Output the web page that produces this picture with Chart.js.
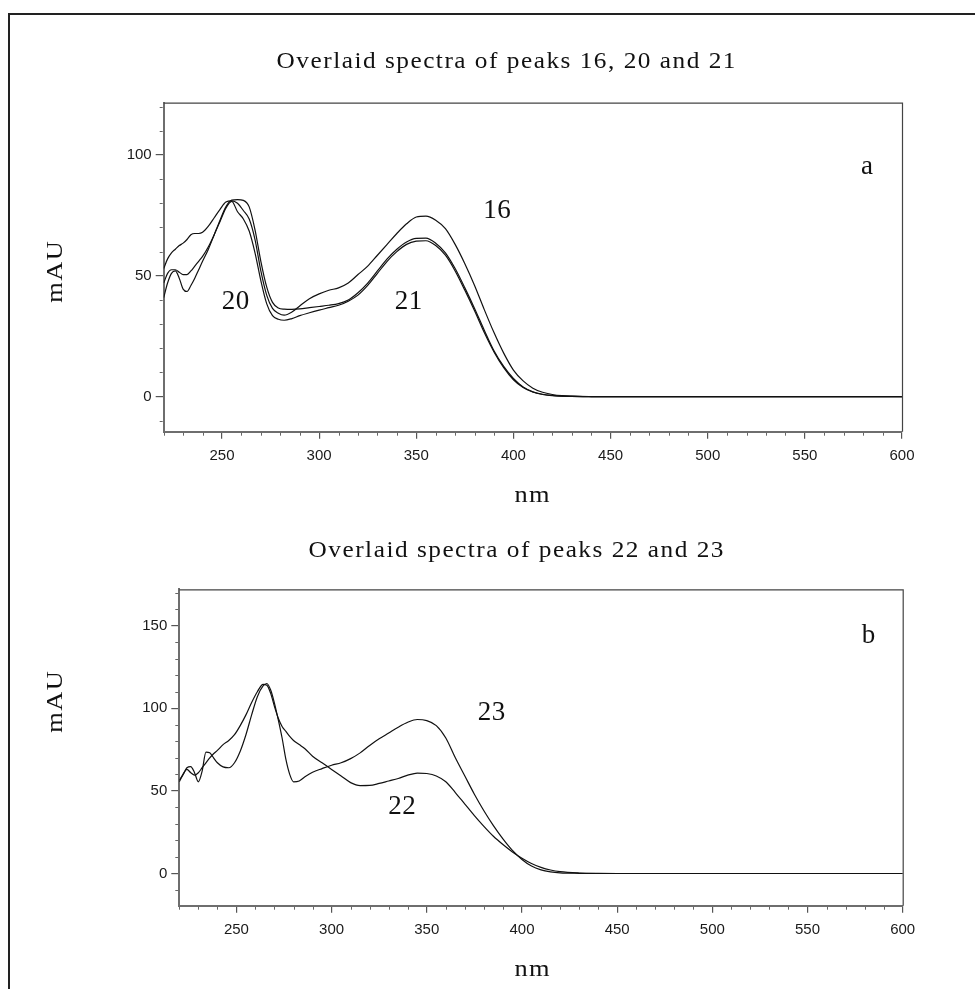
<!DOCTYPE html>
<html>
<head>
<meta charset="utf-8">
<title>Overlaid spectra</title>
<script src="https://cdn.jsdelivr.net/npm/chart.js@4.4.0/dist/chart.umd.min.js"></script>
<style>
    html, body { margin: 0; padding: 0; background: #fff; overflow: hidden; }
    #frame { position: absolute; left: 8px; top: 13px; width: 1000px; height: 1000px; border: 2px solid #222; }
    canvas { position: absolute; left: 0; }
    #chartTop { top: 0; }
    #chartBottom { top: 520px; }
</style>
</head>
<body>
<div id="frame"></div>
<canvas id="chartTop" width="975" height="520"></canvas>
<canvas id="chartBottom" width="975" height="469"></canvas>
<script>
// ---- data ----
const nmTop = [220, 222, 224, 226, 228, 230, 232, 234, 236, 238, 240,
    243, 246, 249, 252, 255, 258, 261, 264, 267, 270, 273, 276, 279, 282,
    286, 290, 295, 300, 305, 310, 315, 320, 325, 330, 335, 340, 345, 350,
    355, 360, 365, 370, 375, 380, 385, 390, 395, 400, 405, 410, 415, 420,
    425, 430, 440, 450, 500, 550, 600];

const peak16 = [53, 57, 59.5, 61, 62.5, 63.5, 65, 67, 67.5, 67.5, 68,
    70.5, 74, 77.5, 80.5, 81, 80, 77, 73.5, 65, 52, 42, 36.5, 34.5, 33.7,
    35, 37.5, 40.5, 42.5, 44, 45, 47, 50.5, 54, 58.5, 63, 67.5, 71.5, 74.3,
    74.7, 73, 69.5, 63, 55, 46, 36, 26.5, 18, 11, 6.5, 3.5, 1.8, 0.9,
    0.4, 0.2, 0.05, 0, 0, 0, 0];

const peak20 = [41, 47, 51, 52, 49, 44.5, 43.5, 46, 49, 52.5, 56,
    61, 67, 73, 78.5, 81.3, 81.5, 81.2, 78.5, 69, 56, 45.4, 39, 36.7, 36.2,
    36.1, 36.3, 36.8, 37.3, 37.8, 38.5, 40, 43, 47, 52, 57, 61, 64, 65.5,
    65.6, 63.5, 59.5, 53, 45, 36.5, 27.5, 19, 12.5, 7.5, 4, 2, 1, 0.5,
    0.2, 0.1, 0, 0, 0, 0, 0];

const peak21 = [47, 51, 52.5, 52.5, 51.5, 50.5, 50.5, 52, 54, 56, 58,
    62, 67, 72.5, 78, 80.8, 76.5, 73.5, 68.5, 59.5, 48, 38.5, 33.5, 32, 31.6,
    32.3, 33.5, 34.7, 35.8, 36.8, 37.8, 39.5, 42, 46, 51, 56, 60, 63, 64.3,
    64.5, 62.5, 58.5, 52, 44, 35.5, 26.5, 18.5, 12, 7, 3.8, 1.9, 0.9, 0.4,
    0.2, 0.1, 0, 0, 0, 0, 0];

const nmBottom = [220, 222, 224, 226, 228, 230, 232, 234, 236, 238, 240,
    243, 246, 249, 252, 255, 258, 261, 264, 266, 268, 270, 272, 274, 276,
    278, 280, 283, 286, 290, 295, 300, 305, 310, 315, 320, 325, 330, 335,
    340, 345, 350, 355, 360, 365, 370, 375, 380, 385, 390, 395, 400, 405,
    410, 415, 420, 430, 440, 450, 500, 550, 600];

const peak22 = [55.5, 60, 63, 61, 59.5, 61, 64, 67, 70, 72.5, 74.5,
    78, 80.5, 84, 89.5, 96, 103.5, 110, 114.5, 114, 109, 101, 94, 89, 86,
    83, 80.5, 78, 75.5, 71, 67, 63, 59, 55, 53.2, 53.3, 54.5, 56, 57.5,
    59.5, 60.8, 60.5, 59, 55.5, 49, 42, 35, 28.5, 22.5, 17.5, 13, 9.2, 6,
    3.7, 2.1, 1.1, 0.3, 0.05, 0, 0, 0, 0];

const peak23 = [56.5, 60, 64, 64.7, 61, 55.5, 62, 73.5, 73, 70, 67,
    64.5, 64, 67, 74, 84, 96, 107, 113.5, 115, 111, 103, 93, 82, 69,
    60, 55.5, 56, 58.5, 61.3, 63.5, 65.5, 67, 69.5, 73, 77.5, 81.5, 85, 88.5,
    91.5, 93.2, 92.5, 89.5, 82, 70, 59, 48, 38, 29, 21, 14, 8.5, 4.5,
    2.2, 1, 0.4, 0.1, 0, 0, 0, 0, 0];

const xTickValues = [250, 300, 350, 400, 450, 500, 550, 600];
const yTicksTop = [0, 50, 100];
const yTicksBottom = [0, 50, 100, 150];

// peak labels, placed in data units (nm, mAU)
const notesTop = ['a', '16', '20', '21'];
const notesTopNm = [582, 391.5, 257, 346];
const notesTopAu = [95, 77, 39, 39];
const notesBottom = ['b', '23', '22'];
const notesBottomNm = [582, 384, 337];
const notesBottomAu = [144, 97, 40];

Chart.defaults.font.family = "'Liberation Sans', Arial, sans-serif";

const SERIF = "'Liberation Serif', 'Times New Roman', serif";

/**
 * 자간 + 가로 배율을 넣어 문자열 그리기 (가운데 정렬)
 */
function spacedText(ctx, text, cx, y, gap, sx) {
    const total = ctx.measureText(text).width * sx + gap * (text.length - 1);
    ctx.save();
    ctx.translate(cx - total / 2, y);
    ctx.textAlign = 'left';
    for (let i = 0; i < text.length; i++) {
        const pre = ctx.measureText(text.slice(0, i)).width * sx + gap * i;
        ctx.save();
        ctx.translate(pre, 0);
        ctx.scale(sx, 1);
        ctx.fillText(text[i], 0, 0);
        ctx.restore();
    }
    ctx.restore();
}

// frame, minor ticks, titles and peak labels
const panelText = {
    id: 'panelText',
    afterDraw(chart, args, opts) {
        const { ctx, chartArea } = chart;
        const xs = chart.scales.x;
        const ys = chart.scales.y;
        ctx.save();

        // top and right edges of the plot box
        ctx.strokeStyle = '#444';
        ctx.lineWidth = 1.2;
        ctx.beginPath();
        ctx.moveTo(chartArea.left, chartArea.top + 0.5);
        ctx.lineTo(chartArea.right + 0.5, chartArea.top + 0.5);
        ctx.lineTo(chartArea.right + 0.5, chartArea.bottom);
        ctx.stroke();

        // minor ticks
        ctx.strokeStyle = '#666';
        ctx.lineWidth = 1;
        ctx.beginPath();
        for (let v = xs.min; v <= xs.max; v += 10) {
            if (v % 50 === 0) continue;
            const px = Math.round(xs.getPixelForValue(v)) + 0.5;
            ctx.moveTo(px, chartArea.bottom + 1);
            ctx.lineTo(px, chartArea.bottom + 4);
        }
        for (let v = Math.ceil(ys.min / 10) * 10; v <= ys.max; v += 10) {
            if (v % 50 === 0) continue;
            const py = Math.round(ys.getPixelForValue(v)) + 0.5;
            ctx.moveTo(chartArea.left - 1, py);
            ctx.lineTo(chartArea.left - 4, py);
        }
        ctx.stroke();

        ctx.fillStyle = '#111';

        // chart title
        ctx.font = '23px ' + SERIF;
        ctx.textBaseline = 'alphabetic';
        spacedText(ctx, opts.title, opts.titleX, opts.titleY, 1.5, 1.1);

        // axis titles
        ctx.font = '24px ' + SERIF;
        spacedText(ctx, 'nm', opts.nmX, opts.nmY, 1.5, 1.1);
        ctx.save();
        ctx.translate(opts.auX, opts.auY);
        ctx.rotate(-Math.PI / 2);
        spacedText(ctx, 'mAU', 0, 0, 1.5, 1.1);
        ctx.restore();

        // peak labels
        ctx.font = '27px ' + SERIF;
        ctx.textBaseline = 'middle';
        opts.notes.forEach((t, i) => {
            spacedText(ctx, t, xs.getPixelForValue(opts.notesNm[i]), ys.getPixelForValue(opts.notesAu[i]), 0.5, 1);
        });
        ctx.restore();
    }
};

function makePanel(canvasId, cfg) {
    const datasets = cfg.series.map(values => ({
        data: cfg.nm.map((x, i) => ({ x: x, y: values[i] })),
        borderColor: '#111',
        borderWidth: 1.2,
        pointRadius: 0,
        fill: false,
        cubicInterpolationMode: 'monotone'
    }));

    return new Chart(document.getElementById(canvasId), {
        type: 'line',
        data: { datasets: datasets },
        options: {
            responsive: false,
            animation: false,
            events: [],
            layout: { padding: cfg.padding },
            plugins: {
                legend: { display: false },
                tooltip: { enabled: false },
                panelText: cfg.text
            },
            scales: {
                x: {
                    type: 'linear',
                    min: 220,
                    max: 600,
                    afterBuildTicks: scale => { scale.ticks = xTickValues.map(v => ({ value: v })); },
                    afterFit: scale => { scale.height = 80; },
                    grid: { drawOnChartArea: false, tickLength: 7, color: '#555', lineWidth: 1.2 },
                    border: { color: '#6e6e6e', width: 2 },
                    ticks: { autoSkip: false, maxRotation: 0, padding: 8, color: '#1a1a1a', font: { size: 15 } }
                },
                y: {
                    type: 'linear',
                    min: cfg.yMin,
                    max: cfg.yMax,
                    afterBuildTicks: scale => { scale.ticks = cfg.yTicks.map(v => ({ value: v })); },
                    afterFit: scale => { scale.width = 60; },
                    grid: { drawOnChartArea: false, tickLength: 8, color: '#555', lineWidth: 1.2 },
                    border: { color: '#6e6e6e', width: 2 },
                    ticks: { autoSkip: false, padding: 4, color: '#1a1a1a', font: { size: 15 } }
                }
            }
        },
        plugins: [panelText]
    });
}

makePanel('chartTop', {
    nm: nmTop,
    series: [peak16, peak20, peak21],
    yMin: -14.5,
    yMax: 121.6,
    yTicks: yTicksTop,
    padding: { left: 103.7, right: 73, top: 102.7, bottom: 8.3 },
    text: {
        title: 'Overlaid spectra of peaks 16, 20 and 21',
        titleX: 506, titleY: 68,
        nmX: 532, nmY: 502,
        auX: 62, auY: 272,
        notes: notesTop, notesNm: notesTopNm, notesAu: notesTopAu
    }
});

makePanel('chartBottom', {
    nm: nmBottom,
    series: [peak22, peak23],
    yMin: -19.5,
    yMax: 172,
    yTicks: yTicksBottom,
    padding: { left: 119.3, right: 72.3, top: 69.3, bottom: 3.3 },
    text: {
        title: 'Overlaid spectra of peaks 22 and 23',
        titleX: 516, titleY: 37,
        nmX: 532, nmY: 456,
        auX: 62, auY: 182,
        notes: notesBottom, notesNm: notesBottomNm, notesAu: notesBottomAu
    }
});
</script>
</body>
</html>
